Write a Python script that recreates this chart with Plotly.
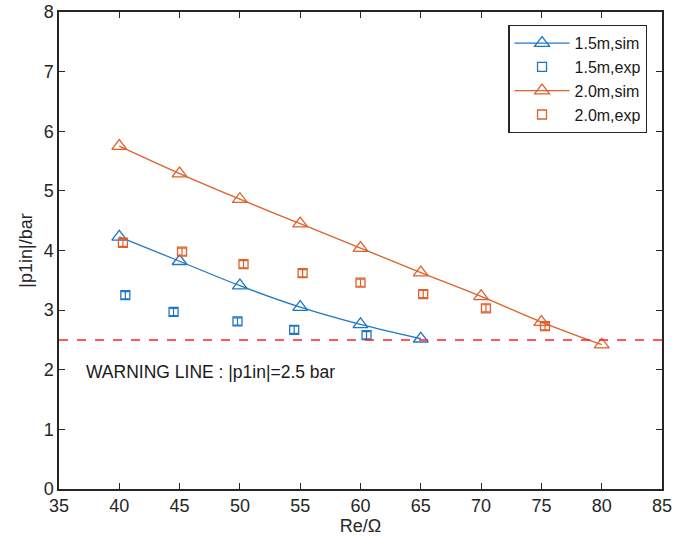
import plotly.graph_objects as go

# Simulated inlet pressure amplitude vs. load resistance
re_sim_15 = [40, 45, 50, 55, 60, 65]
p_sim_15 = [4.23, 3.82, 3.41, 3.05, 2.76, 2.52]

re_sim_20 = [40, 45, 50, 55, 60, 65, 70, 75, 80]
p_sim_20 = [5.75, 5.29, 4.86, 4.45, 4.04, 3.63, 3.23, 2.80, 2.42]

# Experimental measurements with error bars
re_exp_15 = [40.5, 44.5, 49.8, 54.5, 60.5]
p_exp_15 = [3.25, 2.97, 2.81, 2.67, 2.58]
err_exp_15 = [0.06, 0.06, 0.06, 0.06, 0.06]

re_exp_20 = [40.3, 45.2, 50.3, 55.2, 60.0, 65.2, 70.4, 75.3]
p_exp_20 = [4.13, 3.98, 3.77, 3.62, 3.46, 3.27, 3.03, 2.73]
err_exp_20 = [0.06, 0.06, 0.06, 0.06, 0.06, 0.06, 0.06, 0.06]

warning_level = 2.5
x_range = [35, 85]
y_range = [0, 8]

blue = "#1f77c4"
orange = "#e0602a"
axis_col = "#262626"

fig = go.Figure()

fig.add_trace(go.Scatter(
    x=re_sim_15, y=p_sim_15, mode="lines+markers", name="1.5m,sim",
    line=dict(color=blue, width=1.3, shape="spline"),
    marker=dict(symbol="triangle-up-open", size=13, color=blue, line=dict(width=1.3)),
))
fig.add_trace(go.Scatter(
    x=re_exp_15, y=p_exp_15, mode="markers", name="1.5m,exp",
    marker=dict(symbol="square-open", size=9, color=blue, line=dict(width=1.3)),
    error_y=dict(type="data", array=err_exp_15, color=blue, thickness=1.2, width=4),
))
fig.add_trace(go.Scatter(
    x=re_sim_20, y=p_sim_20, mode="lines+markers", name="2.0m,sim",
    line=dict(color=orange, width=1.3, shape="spline"),
    marker=dict(symbol="triangle-up-open", size=13, color=orange, line=dict(width=1.3)),
))
fig.add_trace(go.Scatter(
    x=re_exp_20, y=p_exp_20, mode="markers", name="2.0m,exp",
    marker=dict(symbol="square-open", size=9, color=orange, line=dict(width=1.3)),
    error_y=dict(type="data", array=err_exp_20, color=orange, thickness=1.2, width=4),
))

# Warning threshold
fig.add_trace(go.Scatter(
    x=x_range, y=[warning_level, warning_level], mode="lines", showlegend=False,
    line=dict(color="#ff2020", width=1.5, dash="dash"), hoverinfo="skip",
))

fig.add_annotation(
    x=37.1, y=1.96, xref="x", yref="y", xanchor="left", yanchor="middle",
    text="WARNING LINE : |p1in|=2.5 bar", showarrow=False,
    font=dict(size=17.5, color="#1a1a1a"),
)

axis_common = dict(
    showgrid=False, zeroline=False, showline=True, linecolor=axis_col, linewidth=1.5,
    mirror="ticks", ticks="inside", ticklen=6, tickwidth=1.3, tickcolor=axis_col,
    tickfont=dict(size=18, color="#262626"), automargin=False,
)

fig.update_xaxes(range=x_range, dtick=5, tick0=35,
                 title=dict(text="Re/Ω", font=dict(size=18, color="#262626"), standoff=4),
                 **axis_common)
fig.update_yaxes(range=y_range, dtick=1,
                 title=dict(text="|p1in|/bar", font=dict(size=18, color="#262626"), standoff=6),
                 **axis_common)

fig.update_layout(
    width=692, height=547,
    margin=dict(l=59, r=30, t=12, b=58),
    paper_bgcolor="white", plot_bgcolor="white",
    font=dict(family="Liberation Sans, Arial, sans-serif", color="#262626"),
    legend=dict(
        x=0.745, y=0.973, xanchor="left", yanchor="top",
        bgcolor="white", bordercolor=axis_col, borderwidth=1.3,
        font=dict(size=16, color="#1a1a1a"), itemwidth=55, tracegroupgap=0,
    ),
)

fig.write_html("out.html")
